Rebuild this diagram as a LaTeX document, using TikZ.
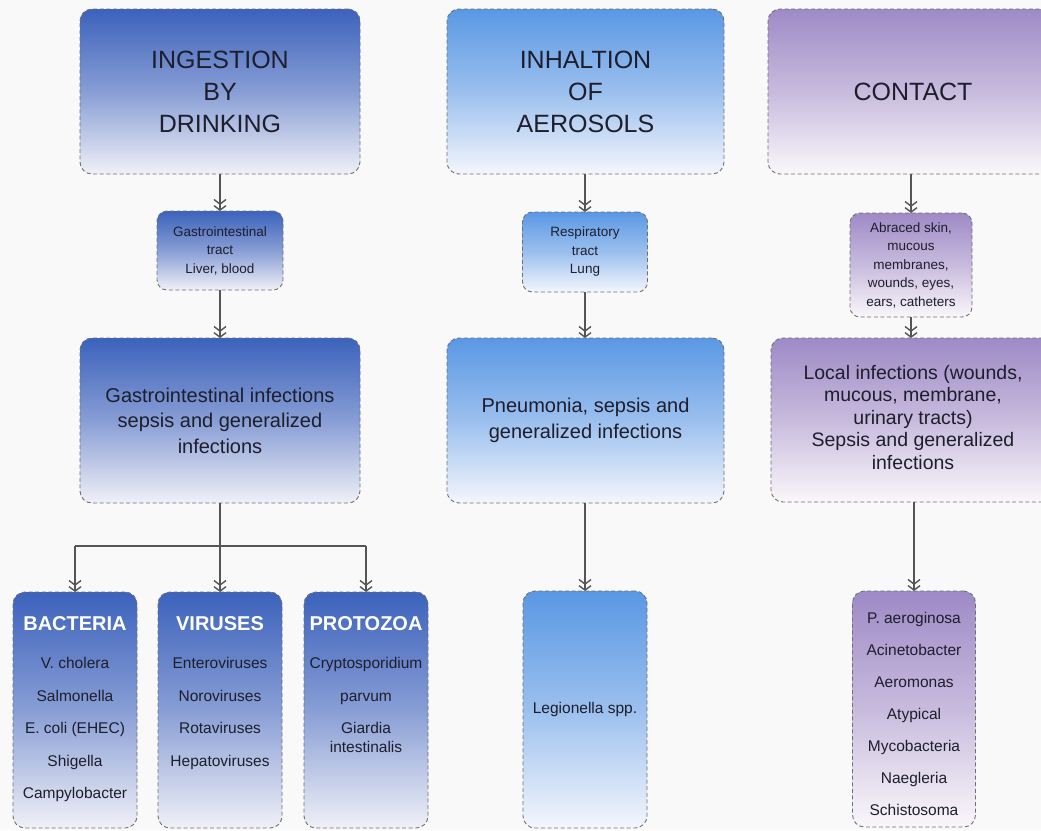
\documentclass[tikz,border=0pt]{standalone}
\usepackage{fontspec}
\setmainfont{Liberation Sans}
\usetikzlibrary{arrows.meta}

\definecolor{bgc}{RGB}{249,249,249}
\definecolor{edge}{RGB}{112,112,116}
\definecolor{ink}{RGB}{30,30,44}
\definecolor{linec}{RGB}{85,85,88}
% blue column (ingestion)
\definecolor{ingtop}{RGB}{60,98,188}
\definecolor{ingbot}{RGB}{240,240,247}
% light blue column (inhalation)
\definecolor{inhtop}{RGB}{90,152,228}
\definecolor{inhbot}{RGB}{244,246,252}
% purple column (contact)
\definecolor{contop}{RGB}{158,138,198}
\definecolor{conbot}{RGB}{250,247,250}

\newcommand{\hugef}{\fontsize{25}{32}\selectfont}
\newcommand{\bigf}{\fontsize{20}{25.5}\selectfont}
\newcommand{\conf}{\fontsize{19.5}{22.5}\selectfont}
\newcommand{\smallf}{\fontsize{13.5}{18.5}\selectfont}
\newcommand{\itemf}{\fontsize{15.5}{19}\selectfont}
\newcommand{\headf}{\fontsize{20}{24}\selectfont\bfseries}

\begin{document}
\begin{tikzpicture}[x=1pt,y=-1pt,
  box/.style={draw=edge, line width=0.9pt, dash pattern=on 4pt off 2.6pt,
    rounded corners=12pt, inner sep=0pt, outer sep=0pt, align=center, text=ink},
  ingfill/.style={top color=ingtop, bottom color=ingbot, middle color=ingtop!58!ingbot},
  inhfill/.style={top color=inhtop, bottom color=inhbot, middle color=inhtop!58!inhbot},
  confill/.style={top color=contop, bottom color=conbot, middle color=contop!55!conbot},
  item/.style={font=\itemf, text=ink, inner sep=0pt, anchor=base},
  head/.style={font=\headf, text=white, inner sep=0pt, anchor=base},
  arr/.style={draw=linec, line width=1.6pt,
    -{Straight Barb[length=4.5pt,width=12pt,line width=1.4pt] Straight Barb[length=4.5pt,width=12pt,line width=1.4pt]}},
  plain/.style={draw=linec, line width=1.6pt}
]
\fill[bgc] (0,0) rectangle (1041,830);
\useasboundingbox (0,0) rectangle (1041,830);
\clip (0,0) rectangle (1041,830);

% ---- routes of entry ----
\node[box, ingfill, minimum width=280pt, minimum height=165pt, font=\hugef]
  (ingTop) at (220,91.5) {INGESTION\\BY\\DRINKING};
\node[box, inhfill, minimum width=277pt, minimum height=165pt, font=\hugef]
  (inhTop) at (585.5,91.5) {INHALTION\\OF\\AEROSOLS};
\node[box, confill, minimum width=290pt, minimum height=165pt, font=\hugef]
  (conTop) at (913,91.5) {CONTACT};

% ---- organs reached ----
\node[box, ingfill, rounded corners=10pt, minimum width=126pt, minimum height=79pt, font=\smallf]
  (ingMid) at (220,250.5) {Gastrointestinal\\tract\\Liver, blood};
\node[box, inhfill, rounded corners=10pt, minimum width=125pt, minimum height=80pt, font=\smallf]
  (inhMid) at (585,252) {Respiratory\\tract\\Lung};
\node[box, confill, rounded corners=10pt, minimum width=122pt, minimum height=104pt, font=\smallf]
  (conMid) at (911,265) {Abraced skin,\\mucous\\membranes,\\wounds, eyes,\\ears, catheters};

% ---- resulting infections ----
\node[box, ingfill, minimum width=280pt, minimum height=165pt, font=\bigf]
  (ingBig) at (220,420.5) {Gastrointestinal infections\\sepsis and generalized\\infections};
\node[box, inhfill, minimum width=277pt, minimum height=165pt, font=\bigf]
  (inhBig) at (585.5,420.5) {Pneumonia, sepsis and\\generalized infections};
\node[box, confill, minimum width=284pt, minimum height=164pt, font=\conf, text depth=6pt]
  (conBig) at (913,420) {Local infections (wounds,\\mucous, membrane,\\urinary tracts)\\Sepsis and generalized\\infections};

% ---- pathogens ----
\node[box, ingfill, minimum width=124pt, minimum height=236pt] (bac) at (75,710) {};
\node[box, ingfill, minimum width=124pt, minimum height=236pt] (vir) at (220,710) {};
\node[box, ingfill, minimum width=124pt, minimum height=236pt] (pro) at (366,710) {};
\node[box, inhfill, minimum width=124pt, minimum height=237pt, font=\itemf]
  (leg) at (585,709.5) {Legionella spp.};
\node[box, confill, minimum width=123pt, minimum height=236pt] (conBot) at (914,709) {};

\node[head] (bac-h) at (75,630) {BACTERIA};
\node[head] (vir-h) at (220,630) {VIRUSES};
\node[head] (pro-h) at (366,630) {PROTOZOA};

\foreach \t [count=\i] in {V. cholera, Salmonella, E. coli (EHEC), Shigella, Campylobacter}
  \node[item] (bac-\i) at (75,{668.5+32.5*(\i-1)}) {\t};
\foreach \t [count=\i] in {Enteroviruses, Noroviruses, Rotaviruses, Hepatoviruses}
  \node[item] (vir-\i) at (220,{668.5+32.5*(\i-1)}) {\t};
\node[item] (pro-1) at (366,668.5) {Cryptosporidium};
\node[item] (pro-2) at (366,701) {parvum};
\node[item] (pro-3) at (366,733.5) {Giardia};
\node[item] (pro-4) at (366,752.5) {intestinalis};
\foreach \t [count=\i] in {P. aeroginosa, Acinetobacter, Aeromonas, Atypical, Mycobacteria, Naegleria, Schistosoma}
  \node[item] (con-\i) at (914,{623.5+32*(\i-1)}) {\t};

% ---- connectors ----
\draw[arr] (ingTop) -- (ingMid);
\draw[arr] (ingMid) -- (ingBig);
\draw[arr] (inhMid.north |- inhTop.south) -- (inhMid.north);
\draw[arr] (inhMid.south) -- (inhMid.south |- inhBig.north);
\draw[arr] (conMid.north |- conTop.south) -- (conMid.north);
\draw[arr] (conMid.south) -- (conMid.south |- conBig.north);

\coordinate (split) at (220,546);
\draw[plain] (ingBig.south) -- (split);
\draw[plain] (bac.north |- split) -- (pro.north |- split);
\draw[arr] (split) -- (vir.north);
\draw[arr] (bac.north |- split) -- (bac.north);
\draw[arr] (pro.north |- split) -- (pro.north);

\draw[arr] (leg.north |- inhBig.south) -- (leg.north);
\draw[arr] (conBot.north |- conBig.south) -- (conBot.north);
\end{tikzpicture}
\end{document}
